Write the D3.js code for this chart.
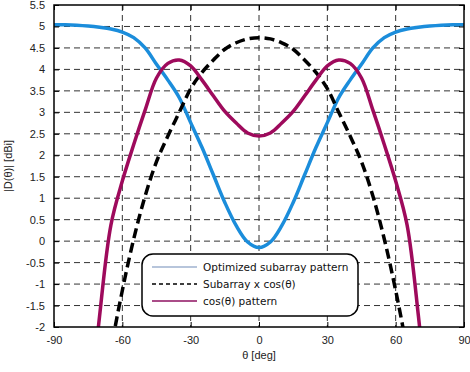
<!DOCTYPE html>
<html>
<head>
<meta charset="utf-8">
<script src="https://cdn.jsdelivr.net/npm/d3@7"></script>
<style>
  body { margin: 0; background: #fff; }
  svg { display: block; }
</style>
</head>
<body>
<svg id="chart" width="470" height="372"></svg>
<script>
// angles in degrees
const theta = [-90, -85, -80, -75, -70, -65, -60, -55, -50, -45, -40, -35, -30, -25, -20, -15, -10, -5, 0,
               5, 10, 15, 20, 25, 30, 35, 40, 45, 50, 55, 60, 65, 70, 75, 80, 85, 90];

const optimized = [5.04, 5.04, 5.03, 5.01, 4.98, 4.94, 4.87, 4.74, 4.5, 4.12, 3.75, 3.34, 2.76, 2.18, 1.54, 0.9, 0.36, -0.02, -0.15,
                   -0.02, 0.36, 0.9, 1.54, 2.18, 2.76, 3.34, 3.75, 4.12, 4.5, 4.74, 4.87, 4.94, 4.98, 5.01, 5.03, 5.04, 5.04];

const subarrayCos = [null, null, null, null, -4.4, -2.55, -1.15, 0.05, 1.05, 1.85, 2.45, 3.0, 3.55, 3.93, 4.22, 4.47, 4.62, 4.71, 4.74,
                     4.71, 4.62, 4.47, 4.22, 3.93, 3.55, 3.0, 2.45, 1.85, 1.05, 0.05, -1.15, -2.55, -4.4, null, null, null, null];

const cosPattern = [null, null, null, -4.5, -1.75, 0.38, 1.4, 2.25, 3.05, 3.8, 4.14, 4.22, 4.08, 3.75, 3.38, 3.02, 2.75, 2.52, 2.45,
                    2.52, 2.75, 3.02, 3.38, 3.75, 4.08, 4.22, 4.14, 3.8, 3.05, 2.25, 1.4, 0.38, -1.75, -4.5, null, null, null];

const xTicks = [-90, -60, -30, 0, 30, 60, 90];
const yTicks = [-2, -1.5, -1, -0.5, 0, 0.5, 1, 1.5, 2, 2.5, 3, 3.5, 4, 4.5, 5, 5.5];

const legendNames = ["Optimized subarray pattern", "Subarray x cos(\u03b8)", "cos(\u03b8) pattern"];

const plotL = 54, plotR = 464, plotT = 5, plotB = 327;

const svg = d3.select("#chart");
const x = d3.scaleLinear().domain([-90, 90]).range([plotL, plotR]);
const y = d3.scaleLinear().domain([-2, 5.5]).range([plotB, plotT]);

// grid
svg.append("g").selectAll("line")
   .data(xTicks.slice(1, -1))
   .enter().append("line")
   .attr("x1", d => x(d)).attr("x2", d => x(d))
   .attr("y1", plotT).attr("y2", plotB)
   .attr("stroke", "#333").attr("stroke-width", 1)
   .attr("stroke-dasharray", "6,4");

svg.append("g").selectAll("line")
   .data(yTicks.slice(1, -1))
   .enter().append("line")
   .attr("x1", plotL).attr("x2", plotR)
   .attr("y1", d => y(d)).attr("y2", d => y(d))
   .attr("stroke", "#333").attr("stroke-width", 1)
   .attr("stroke-dasharray", "6,4");

// clip for curves
svg.append("clipPath").attr("id", "clip")
   .append("rect").attr("x", plotL).attr("y", plotT)
   .attr("width", plotR - plotL).attr("height", plotB - plotT);

function drawLine(vals, color, width, dash) {
  const line = d3.line()
    .defined(d => d[1] !== null)
    .x(d => x(d[0]))
    .y(d => y(d[1]))
    .curve(d3.curveCatmullRom);
  svg.append("path")
     .datum(theta.map((t, i) => [t, vals[i]]))
     .attr("clip-path", "url(#clip)")
     .attr("d", line)
     .attr("fill", "none")
     .attr("stroke", color)
     .attr("stroke-width", width)
     .attr("stroke-dasharray", dash);
}

drawLine(optimized, "#1b8ddb", 3.5, null);
drawLine(subarrayCos, "#000", 3.5, "10,5");
drawLine(cosPattern, "#9e0a5c", 3.5, null);

// axes with inward ticks
const fontTick = "'Liberation Sans', Arial, sans-serif";
const plain = d => String(d);
const xAxis = svg.append("g").attr("transform", `translate(0,${plotB})`)
  .call(d3.axisBottom(x).tickValues(xTicks).tickSize(-5).tickPadding(9).tickFormat(plain));
const xAxisTop = svg.append("g").attr("transform", `translate(0,${plotT})`)
  .call(d3.axisTop(x).tickValues(xTicks).tickSize(-5).tickFormat(""));
const yAxis = svg.append("g").attr("transform", `translate(${plotL},0)`)
  .call(d3.axisLeft(y).tickValues(yTicks).tickSize(-5).tickPadding(9).tickFormat(plain));
const yAxisR = svg.append("g").attr("transform", `translate(${plotR},0)`)
  .call(d3.axisRight(y).tickValues(yTicks).tickSize(-5).tickFormat(""));

[xAxis, xAxisTop, yAxis, yAxisR].forEach(a => {
  a.attr("font-family", fontTick).attr("font-size", 11);
  a.select(".domain").remove();
  a.selectAll(".tick line").attr("stroke", "#000").attr("stroke-width", 1);
  a.selectAll("text").attr("fill", "#222");
});

// frame
svg.append("rect")
   .attr("x", plotL).attr("y", plotT)
   .attr("width", plotR - plotL).attr("height", plotB - plotT)
   .attr("fill", "none").attr("stroke", "#000").attr("stroke-width", 1.5);

// axis labels
svg.append("text")
   .attr("x", x(0)).attr("y", 359)
   .attr("text-anchor", "middle")
   .attr("font-family", fontTick).attr("font-size", 11).attr("fill", "#222")
   .text("\u03b8 [deg]");

svg.append("text")
   .attr("transform", `translate(12,${y(1.75)}) rotate(-90)`)
   .attr("text-anchor", "middle")
   .attr("font-family", fontTick).attr("font-size", 11).attr("fill", "#222")
   .text("|D(\u03b8)| [dBi]");

// legend
const lg = svg.append("g");
lg.append("rect")
  .attr("x", 142).attr("y", 254).attr("width", 216).attr("height", 62)
  .attr("rx", 11).attr("ry", 11)
  .attr("fill", "#fff").attr("stroke", "#000").attr("stroke-width", 1.5);

const legendStyle = [
  { color: "#9fb2cf", dash: null },
  { color: "#000", dash: "4,3" },
  { color: "#8e1160", dash: null }
];

legendNames.forEach((name, i) => {
  const ly = 267 + i * 17;
  lg.append("line")
    .attr("x1", 152).attr("x2", 197).attr("y1", ly).attr("y2", ly)
    .attr("stroke", legendStyle[i].color).attr("stroke-width", 1.5)
    .attr("stroke-dasharray", legendStyle[i].dash);
  lg.append("text")
    .attr("x", 203).attr("y", ly + 4)
    .attr("font-family", "'DejaVu Sans', Verdana, sans-serif").attr("font-size", 10.5)
    .attr("fill", "#111")
    .text(name);
});
</script>
</body>
</html>
